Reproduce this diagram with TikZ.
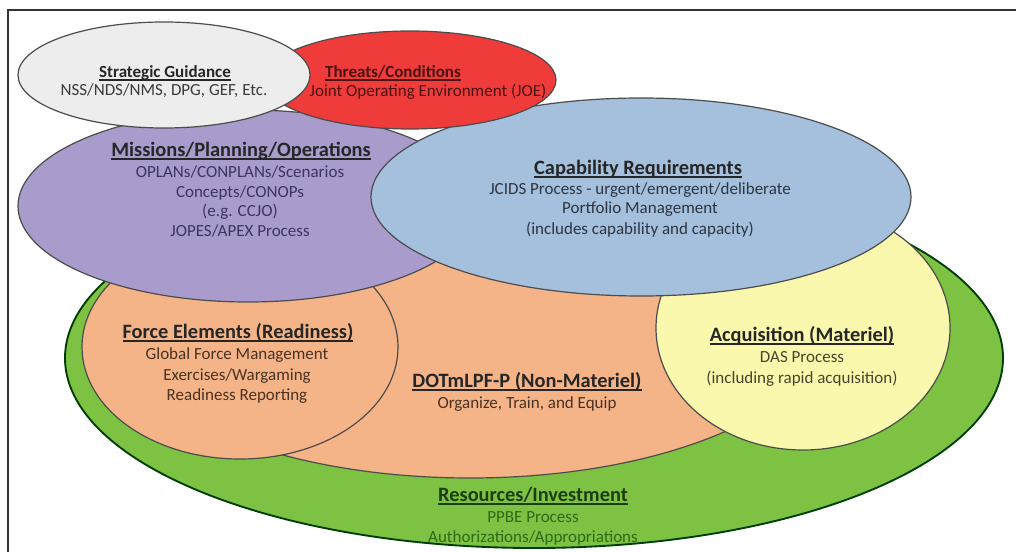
\documentclass[tikz,border=0pt]{standalone}
\usepackage{fontspec}
\setmainfont{Carlito}
\definecolor{cgreen}{HTML}{7DC242}
\definecolor{corange}{HTML}{F4B488}
\definecolor{cyellow}{HTML}{F9F8AC}
\definecolor{cpurple}{HTML}{A99BCB}
\definecolor{cblue}{HTML}{A5C0DD}
\definecolor{cred}{HTML}{EF3B3A}
\definecolor{cwhite}{HTML}{EDEDED}
\definecolor{tgray}{HTML}{3A3A3A}
\definecolor{tred}{HTML}{4A1212}
\definecolor{tpurple}{HTML}{3C3560}
\definecolor{tblue}{HTML}{2C3542}
\definecolor{torange}{HTML}{4A3222}
\definecolor{tyellow}{HTML}{45452E}
\definecolor{tgreen}{HTML}{2E6A18}
\definecolor{tgreenh}{HTML}{1C3D10}
\newcommand\tul[1]{\setbox0\hbox{#1}\rlap{\rule[-2.4pt]{\wd0}{1.1pt}}\box0}
\begin{document}
\begin{tikzpicture}[x=0.75pt,y=-0.75pt,
  venn/.style={draw=black!70, line width=0.9pt},
  ttl/.style={font=\fontsize{15.3}{18}\selectfont\bfseries, anchor=base, inner sep=0pt},
  ttls/.style={font=\fontsize{12.75}{15}\selectfont\bfseries, anchor=base, inner sep=0pt},
  txt/.style={font=\fontsize{12.75}{15}\selectfont, anchor=base, inner sep=0pt}]
\useasboundingbox (0,0) rectangle (1016,552);
\fill[white] (0,0) rectangle (1016,552);
% frame
\draw[line width=1.6pt, black!80] (8,552) -- (8,10) -- (1016,10);
% ellipses, back to front
\filldraw[venn, fill=cgreen, draw=black!60!green!60!black, line width=1.4pt] (534,358) ellipse [x radius=469, y radius=190];
\filldraw[venn, fill=corange] (470,320) ellipse [x radius=360, y radius=158];
\filldraw[venn, fill=corange] (240,347) ellipse [x radius=158, y radius=112];
\filldraw[venn, fill=cyellow] (803,328) ellipse [x radius=147, y radius=122];
\filldraw[venn, fill=cpurple] (248,206) ellipse [x radius=230, y radius=96];
\filldraw[venn, fill=cblue] (641,197) ellipse [x radius=270, y radius=99];
\filldraw[venn, fill=cred] (410,80) ellipse [x radius=146, y radius=49];
\filldraw[venn, fill=cwhite] (164,75) ellipse [x radius=146, y radius=53];
% Strategic guidance
\node[ttls, text=black!85] (sgT) at (165,77.5) {\tul{Strategic Guidance}};
\node[txt, text=tgray] (sg1) at (164,96) {NSS/NDS/NMS, DPG, GEF, Etc.};
% Threats
\node[ttls, text=tred] (thT) at (393,77.5) {\tul{Threats/Conditions}};
\node[txt, text=tred] (th1) at (428,97) {Joint Operating Environment (JOE)};
% Missions
\node[ttl, text=black!85] (miT) at (241,156.5) {\tul{Missions/Planning/Operations}};
\node[txt, text=tpurple] (mi1) at (240,178) {OPLANs/CONPLANs/Scenarios};
\node[txt, text=tpurple] (mi2) at (240,198) {Concepts/CONOPs};
\node[txt, text=tpurple] (mi3) at (240,217) {(e.g. CCJO)};
\node[txt, text=tpurple] (mi4) at (240,237) {JOPES/APEX Process};
% Capability
\node[ttl, text=black!85] (caT) at (638,174.5) {\tul{Capability Requirements}};
\node[txt, text=tblue] (ca1) at (640,195) {JCIDS Process - urgent/emergent/deliberate};
\node[txt, text=tblue] (ca2) at (640,214) {Portfolio Management};
\node[txt, text=tblue] (ca3) at (640,234) {(includes capability and capacity)};
% Force elements
\node[ttl, text=black!85] (feT) at (238,338.5) {\tul{Force Elements (Readiness)}};
\node[txt, text=torange] (fe1) at (237,359) {Global Force Management};
\node[txt, text=torange] (fe2) at (237,380) {Exercises/Wargaming};
\node[txt, text=torange] (fe3) at (237,400) {Readiness Reporting};
% DOTmLPF
\node[ttl, text=black!85] (doT) at (527,387.5) {\tul{DOTmLPF-P (Non-Materiel)}};
\node[txt, text=torange] (do1) at (527,408) {Organize, Train, and Equip};
% Acquisition
\node[ttl, text=black!85] (acT) at (802,341.5) {\tul{Acquisition (Materiel)}};
\node[txt, text=tyellow] (ac1) at (802,362) {DAS Process};
\node[txt, text=tyellow] (ac2) at (802,383) {(including rapid acquisition)};
% Resources
\node[ttl, text=tgreenh] (reT) at (533,501.5) {\tul{Resources/Investment}};
\node[txt, text=tgreen] (re1) at (533,522) {PPBE Process};
\node[txt, text=tgreen] (re2) at (533,542) {Authorizations/Appropriations};
\end{tikzpicture}
\end{document}
